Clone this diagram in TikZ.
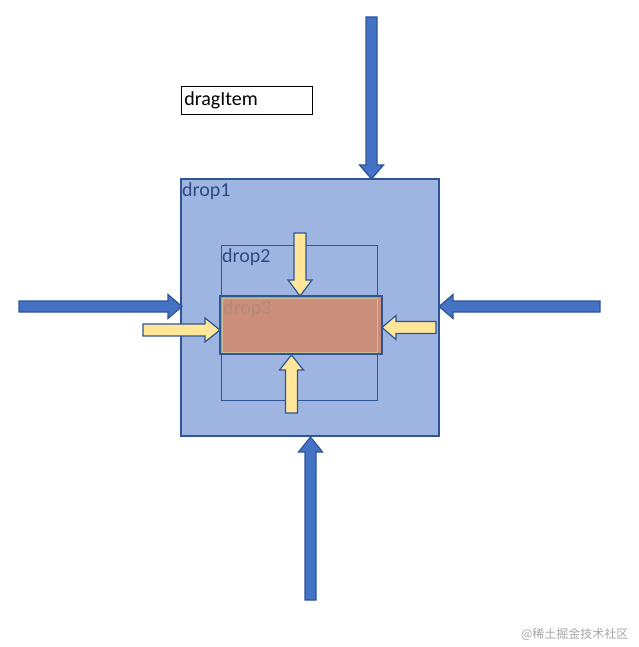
\documentclass[tikz,border=0pt]{standalone}
\usepackage{fontspec}
\setmainfont{Carlito}
\newfontfamily\cjk{Noto Sans CJK SC}
\definecolor{dOne}{HTML}{9DB5E0}
\definecolor{edge}{HTML}{2F5597}
\definecolor{bigA}{HTML}{4472C4}
\definecolor{yel}{HTML}{FFE699}
\definecolor{redf}{HTML}{CB8E7B}
\definecolor{txtd}{HTML}{2F4A80}
\newcommand\vArrow[7]{\draw[#1] ({#2-#6},#3)--({#2+#6},#3)--({#2+#6},#4)--({#2+#7},#4)--(#2,#5)--({#2-#7},#4)--({#2-#6},#4)--cycle;}
\newcommand\hArrow[7]{\draw[#1] (#3,{#2-#6})--(#3,{#2+#6})--(#4,{#2+#6})--(#4,{#2+#7})--(#5,#2)--(#4,{#2-#7})--(#4,{#2-#6})--cycle;}
\begin{document}
\begin{tikzpicture}[x=1pt,y=-1pt,
  bigarrow/.style={fill=bigA,draw=edge,line width=1.2pt},
  yelarrow/.style={fill=yel,draw=edge,line width=1.2pt},
  lab/.style={font=\fontsize{20}{24}\selectfont,anchor=north west,inner sep=1pt,text=txtd}]
\useasboundingbox (0,0) rectangle (638,647);
\draw[fill=dOne,draw=edge,line width=1.2pt] (181,179) rectangle (439,436);
\node[lab] (d1) at (181,181) {drop1};
\draw[edge,line width=0.6pt] (221,245) rectangle (377,400);
\node[lab] (d2) at (221,247) {drop2};
\draw[fill=redf,draw=edge,line width=1.5pt] (220,296) rectangle (382,354);
\draw[draw=yel!60!gray,line width=1pt] (222,298) rectangle (377,352);
\node[lab,text=redf!70!gray] (d3) at (222,299) {drop3};
\node[draw=black,line width=0.6pt,minimum width=131pt,minimum height=28pt,anchor=north west,inner sep=2pt,text width=125pt,align=left,font=\fontsize{20}{24}\selectfont] (drag) at (181,86) {dragItem};
\vArrow{bigarrow}{371.5}{17}{165}{179}{5.5}{12}
\vArrow{bigarrow}{310.5}{600}{452}{437}{5.5}{12}
\hArrow{bigarrow}{306.5}{19}{168}{182}{5.5}{12}
\hArrow{bigarrow}{306.5}{600}{453}{439}{5.5}{12}
\vArrow{yelarrow}{300}{233}{280}{296}{6}{12}
\vArrow{yelarrow}{291.5}{413}{370}{355}{6}{12}
\hArrow{yelarrow}{330}{143}{205}{220}{6}{12}
\hArrow{yelarrow}{327.5}{436}{396}{382}{6}{12}
\node[anchor=east,text=gray!70,font=\cjk\fontsize{12}{14}\selectfont] (wm) at (632,634) {@稀土掘金技术社区};
\end{tikzpicture}
\end{document}
